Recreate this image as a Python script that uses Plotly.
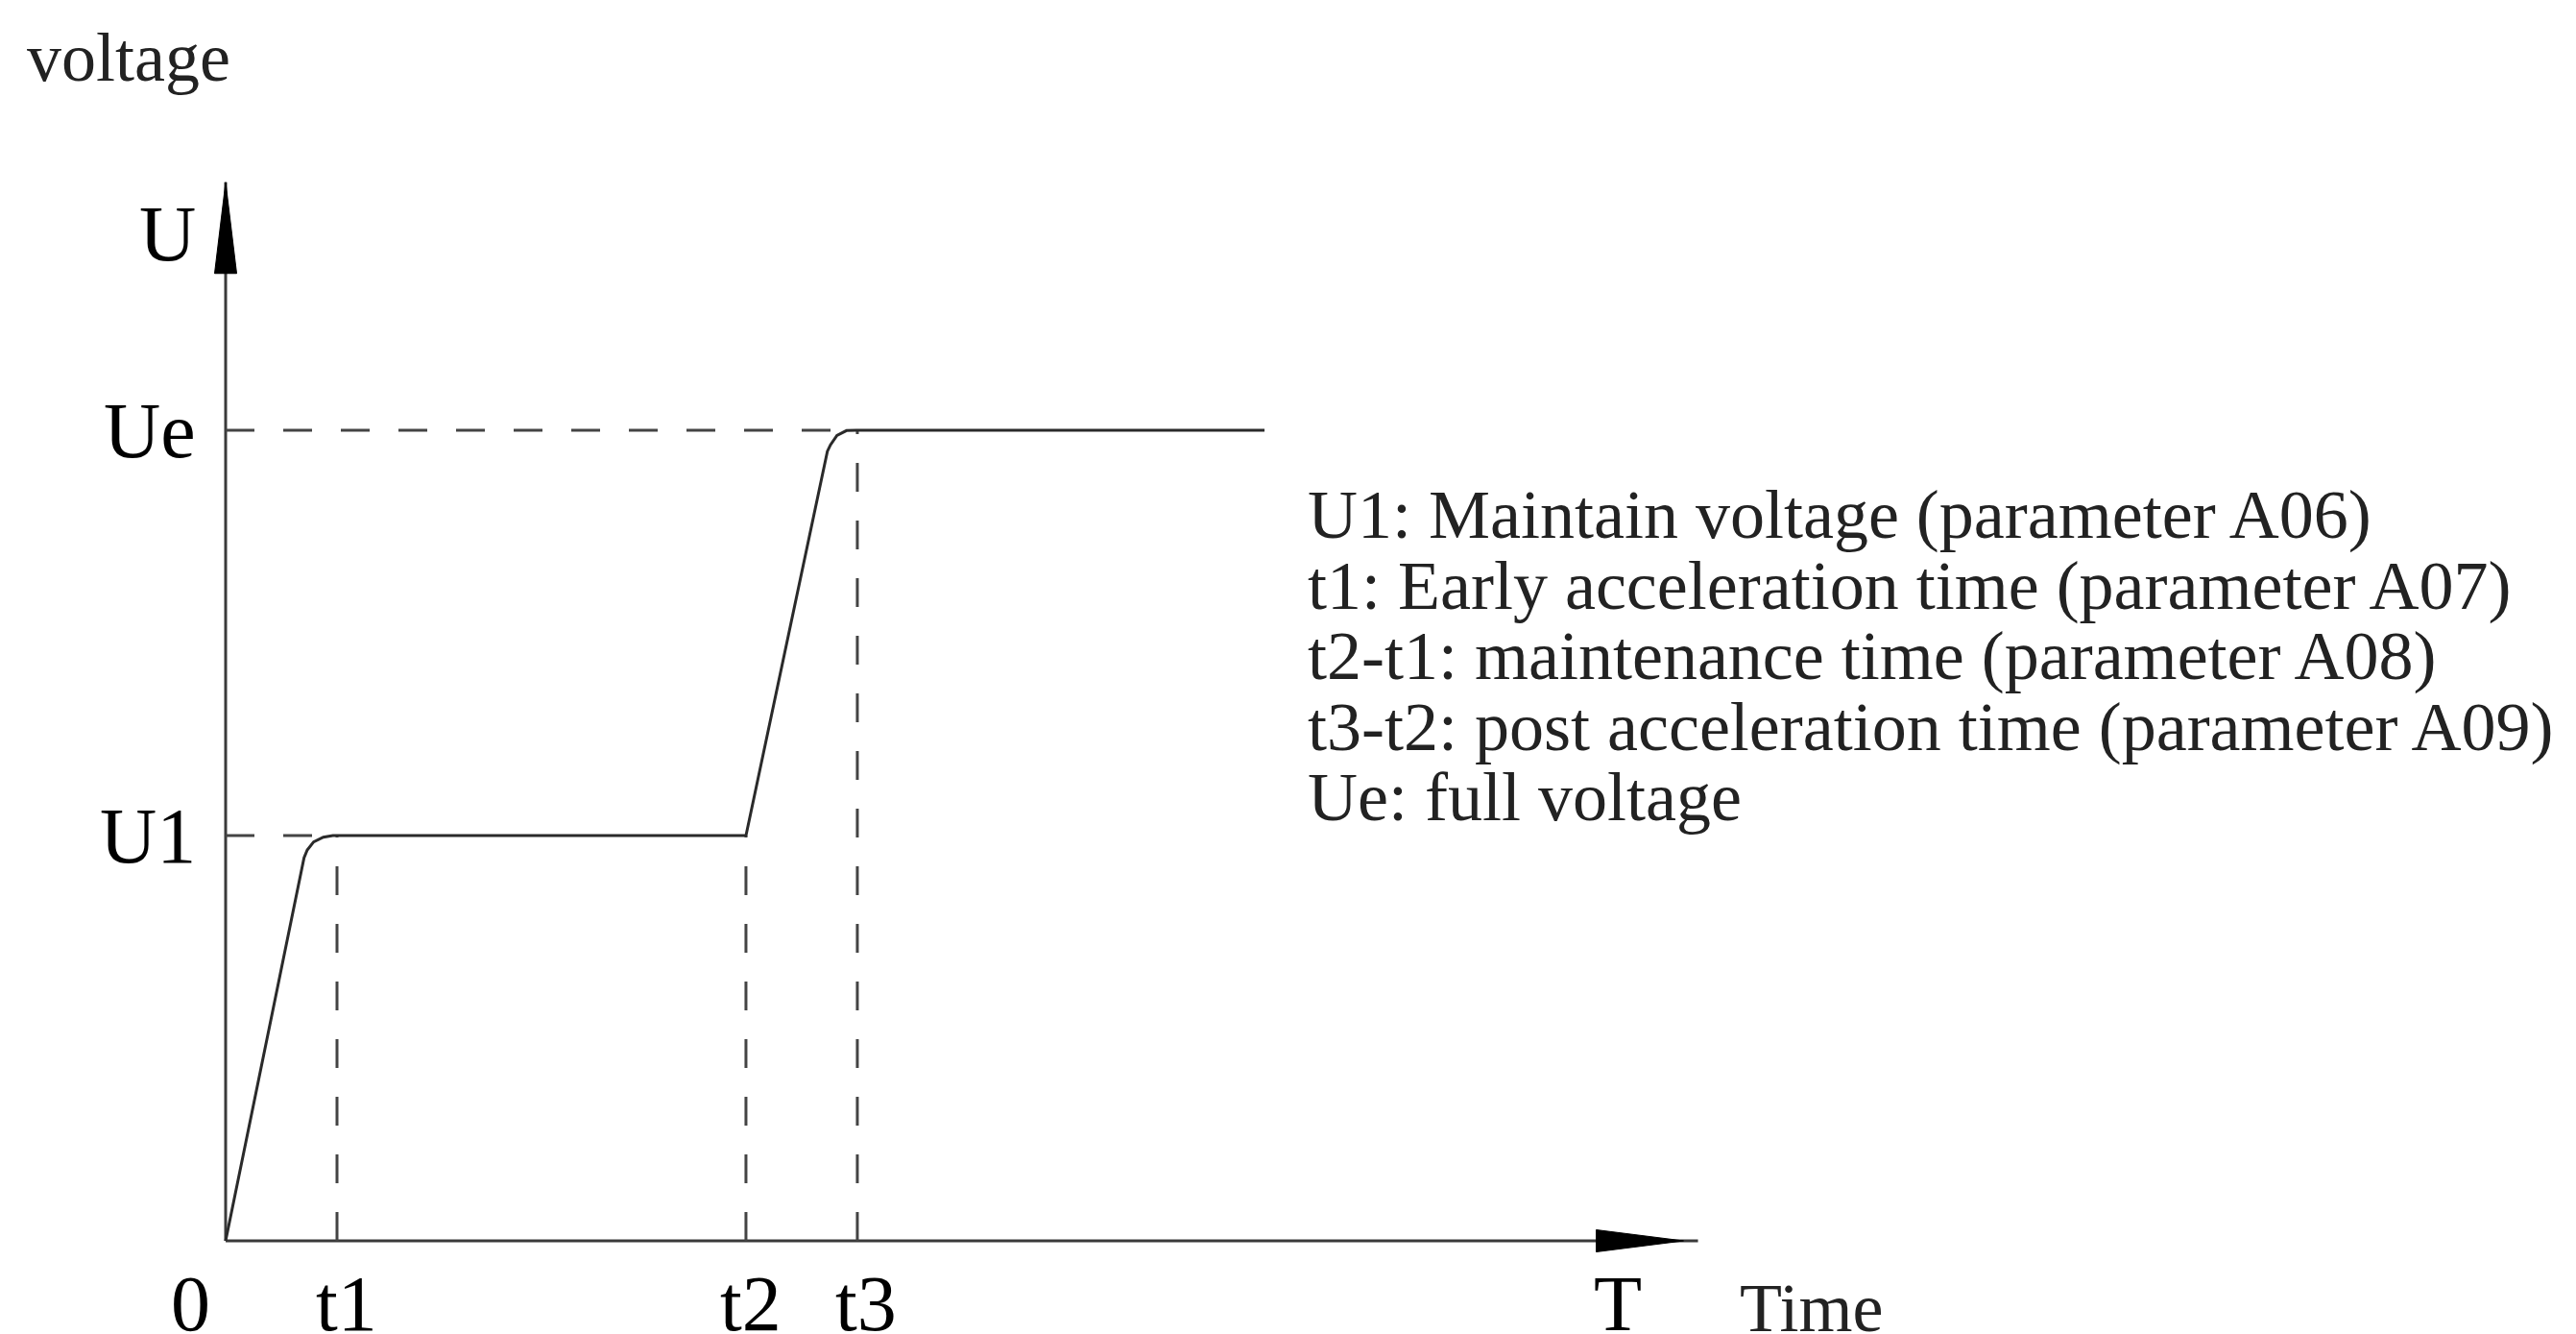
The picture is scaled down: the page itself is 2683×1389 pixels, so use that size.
import plotly.graph_objects as go

# ---------------- data ----------------
# time marks (arbitrary time units) and voltage levels (Ue = 1)
t1 = 1.0
t2 = 4.672
t3 = 5.672
t_end = 9.328          # end of the drawn curve
T_axis = 13.22         # length of the time axis
U1 = 0.5
Ue = 1.0
U_axis = 1.306         # height of the voltage axis

# voltage curve (with small rounded corners at t1 and t3)
curve_t = [0, 0.704, 0.733, 0.790, 0.877, 0.963, 4.672, 5.403, 5.431, 5.489, 5.575, 5.661, 9.328]
curve_u = [0, 0.4724, 0.4822, 0.4921, 0.4980, 0.5, 0.5, 0.974, 0.982, 0.9937, 0.9996, 1.0, 1.0]

axis_tick_labels = ["0", "t1", "t2", "t3", "T"]
level_labels = ["Ue", "U1"]
notes = [
    "U1: Maintain voltage (parameter A06)",
    "t1: Early acceleration time (parameter A07)",
    "t2-t1: maintenance time (parameter A08)",
    "t3-t2: post acceleration time (parameter A09)",
    "Ue: full voltage",
]

# ---------------- layout constants ----------------
PAGE_W, PAGE_H = 2683, 1389
BODY = 8                    # default page margin around the figure
W, H = PAGE_W - BODY, PAGE_H - BODY
OX, OY = 235, 1292          # page pixel of the origin
KX, KY = 116.0, 844.0       # pixels per unit


def X(px):
    return (px - OX) / KX


def Y(py):
    return (OY - py) / KY


LINE = "#2a2a2a"
AXIS = "#3a3a3a"
DASH = "#444444"
LBL_FONT = "Liberation Serif, Times New Roman, serif"
TXT_FONT = "Liberation Serif, Times New Roman, serif"

fig = go.Figure()

# axes
fig.add_trace(go.Scatter(x=[0, T_axis], y=[0, 0], mode="lines",
                         line=dict(color=AXIS, width=3)))
fig.add_trace(go.Scatter(x=[0, 0], y=[0, U_axis], mode="lines",
                         line=dict(color=AXIS, width=3)))

# arrowheads
ax_len, ax_half = 91 / KX, 11.5 / KY
tipx = T_axis - 15 / KX
fig.add_trace(go.Scatter(x=[tipx - ax_len, tipx, tipx - ax_len, tipx - ax_len],
                         y=[-ax_half, 0, ax_half, -ax_half], mode="lines",
                         fill="toself", fillcolor="#000", line=dict(color="#000", width=1)))
ay_len, ay_half = 95 / KY, 11.5 / KX
fig.add_trace(go.Scatter(x=[-ay_half, 0, ay_half, -ay_half],
                         y=[U_axis - ay_len, U_axis, U_axis - ay_len, U_axis - ay_len], mode="lines",
                         fill="toself", fillcolor="#000", line=dict(color="#000", width=1)))

# dashed guide lines
dash = "30px,30px"
for xs, ys in [([0, t1], [U1, U1]), ([0, t3], [Ue, Ue]),
               ([t1, t1], [0, U1]), ([t2, t2], [0, U1]), ([t3, t3], [0, Ue])]:
    fig.add_trace(go.Scatter(x=xs, y=ys, mode="lines",
                             line=dict(color=DASH, width=3, dash=dash)))

# voltage curve
fig.add_trace(go.Scatter(x=curve_t, y=curve_u, mode="lines",
                         line=dict(color=LINE, width=3)))

ann = []
lbl = dict(family=LBL_FONT, size=82, color="#000")
txt = dict(family=TXT_FONT, size=72, color="#222")

# level labels
ann.append(dict(x=X(206), y=Y(243), text="U", xanchor="right", yanchor="middle", font=lbl))
for name, val in zip(level_labels, [Ue, U1]):
    ann.append(dict(x=X(206), y=val, text=name, xanchor="right", yanchor="middle", font=lbl))

# time labels
for name, val, sh in zip(axis_tick_labels, [X(198), t1, t2, t3, X(1685)], [0, 10, 5, 9, 0]):
    ann.append(dict(x=val, y=Y(1357), xshift=sh, text=name, xanchor="center",
                    yanchor="middle", font=lbl))

ann.append(dict(x=X(26), y=Y(60), text="voltage", xanchor="left", yanchor="middle", font=txt))
ann.append(dict(x=X(1810), y=Y(1362), text="Time", xanchor="left", yanchor="middle", font=txt))

for i, s in enumerate(notes):
    ann.append(dict(x=X(1360), y=Y(536 + 73.5 * i), text=s, xanchor="left",
                    yanchor="middle", font=txt))

for a in ann:
    a.update(showarrow=False, xref="x", yref="y")

fig.update_layout(
    width=W, height=H, margin=dict(l=0, r=0, t=0, b=0),
    paper_bgcolor="white", plot_bgcolor="white", showlegend=False,
    xaxis=dict(range=[X(BODY), X(BODY + W)], visible=False, fixedrange=True),
    yaxis=dict(range=[Y(BODY + H), Y(BODY)], visible=False, fixedrange=True),
    annotations=ann, hovermode=False,
)

fig.write_html("out.html", config={"displayModeBar": False})
